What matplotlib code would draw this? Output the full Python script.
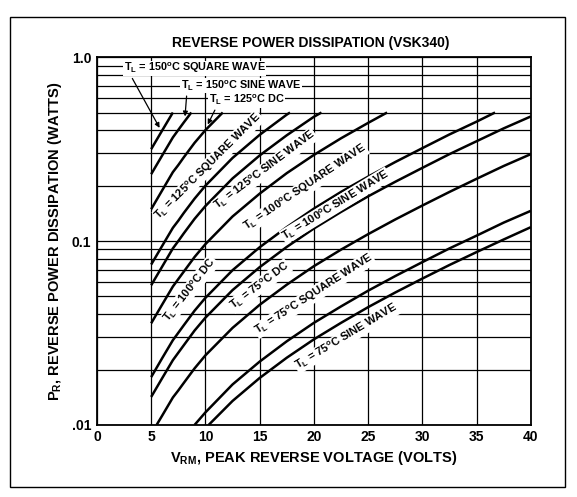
import matplotlib
matplotlib.use('Agg')
import matplotlib.pyplot as plt
from matplotlib.patches import Rectangle

plt.rcParams['font.family'] = ['Liberation Sans', 'DejaVu Sans']
plt.rcParams['font.weight'] = 'bold'
plt.rcParams['mathtext.default'] = 'regular'

# values (volts, watts)
v_150_sq = [5, 6, 7]
p_150_sq = [0.316, 0.398, 0.50]

v_150_sine = [5, 6, 7, 7.5, 8, 8.7]
p_150_sine = [0.231, 0.291, 0.366, 0.402, 0.441, 0.50]

v_125_dc = [5, 6, 7, 7.5, 8, 9, 10, 11.6]
p_125_dc = [0.149, 0.188, 0.237, 0.259, 0.285, 0.342, 0.401, 0.50]

v_125_sq = [5, 6, 7, 7.5, 8, 9, 10, 12.5, 15, 17.5, 17.8]
p_125_sq = [0.0745, 0.0938, 0.118, 0.129, 0.142, 0.170, 0.200, 0.283, 0.378, 0.487, 0.50]

v_125_sine = [5, 6, 7, 7.5, 8, 9, 10, 12.5, 15, 17.5, 20, 20.7]
p_125_sine = [0.0575, 0.0724, 0.0912, 0.100, 0.110, 0.132, 0.155, 0.219, 0.292, 0.376, 0.474, 0.50]

v_100_dc = [5, 6, 7, 7.5, 8, 9, 10, 12.5, 15, 17.5, 20, 22.5, 25, 26.75]
p_100_dc = [0.0357, 0.0450, 0.0566, 0.0621, 0.0681, 0.0819, 0.0962, 0.136, 0.181,
            0.234, 0.294, 0.362, 0.439, 0.50]

v_100_sq = [5, 6, 7, 7.5, 8, 9, 10, 12.5, 15, 17.5, 20, 22.5, 25, 27.5, 30, 32.5, 35, 36.7]
p_100_sq = [0.0182, 0.0230, 0.0289, 0.0317, 0.0348, 0.0418, 0.0491, 0.0694, 0.0925,
            0.119, 0.150, 0.185, 0.224, 0.269, 0.320, 0.380, 0.446, 0.50]

v_100_sine = [5, 6, 7, 7.5, 8, 9, 10, 12.5, 15, 17.5, 20, 22.5, 25, 27.5, 30, 32.5, 35, 37.5, 40]
p_100_sine = [0.0142, 0.0179, 0.0225, 0.0247, 0.0271, 0.0326, 0.0383, 0.0541, 0.0721,
              0.0929, 0.117, 0.144, 0.175, 0.210, 0.250, 0.297, 0.349, 0.410, 0.476]

v_75_dc = [5.5, 6, 7, 7.5, 8, 9, 10, 12.5, 15, 17.5, 20, 22.5, 25, 27.5, 30, 32.5, 35, 37.5, 40]
p_75_dc = [0.0100, 0.0112, 0.0141, 0.0154, 0.0169, 0.0203, 0.0239, 0.0337, 0.0450,
           0.0579, 0.0730, 0.0898, 0.109, 0.131, 0.156, 0.185, 0.218, 0.256, 0.297]

v_75_sq = [9, 10, 12.5, 15, 17.5, 20, 22.5, 25, 27.5, 30, 32.5, 35, 37.5, 40]
p_75_sq = [0.0100, 0.0117, 0.0166, 0.0221, 0.0285, 0.0359, 0.0441, 0.0537, 0.0645,
           0.0768, 0.0912, 0.107, 0.126, 0.146]

v_75_sine = [10.3, 12.5, 15, 17.5, 20, 22.5, 25, 27.5, 30, 32.5, 35, 37.5, 40]
p_75_sine = [0.0100, 0.0135, 0.0180, 0.0232, 0.0292, 0.0359, 0.0437, 0.0525, 0.0625,
             0.0741, 0.0871, 0.102, 0.119]

curves = [
    (v_150_sq, p_150_sq), (v_150_sine, p_150_sine), (v_125_dc, p_125_dc),
    (v_125_sq, p_125_sq), (v_125_sine, p_125_sine), (v_100_dc, p_100_dc),
    (v_100_sq, p_100_sq), (v_100_sine, p_100_sine), (v_75_dc, p_75_dc),
    (v_75_sq, p_75_sq), (v_75_sine, p_75_sine),
]

x_ticks = [0, 5, 10, 15, 20, 25, 30, 35, 40]
y_ticks = [0.01, 0.1, 1.0]
y_tick_labels = ['.01', '0.1', '1.0']

fig = plt.figure(figsize=(5.77, 4.97), dpi=100)
ax = fig.add_axes([0.168, 0.145, 0.752, 0.740])
ax.set_yscale('log')
ax.set_xlim(0, 40)
ax.set_ylim(0.01, 1.0)

ax.set_xticks(x_ticks)
ax.set_xticklabels([str(t) for t in x_ticks], fontsize=10, fontweight='bold')
ax.set_yticks(y_ticks)
ax.set_yticklabels(y_tick_labels, fontsize=10, fontweight='bold')
ax.yaxis.set_minor_locator(matplotlib.ticker.LogLocator(base=10, subs=range(2, 10)))
ax.yaxis.set_minor_formatter(matplotlib.ticker.NullFormatter())
ax.tick_params(which='both', length=0, pad=4)
ax.grid(True, which='both', color='black', linewidth=0.9, zorder=1)
ax.set_axisbelow(True)
for s in ax.spines.values():
    s.set_linewidth(1.3)

for v, p in curves:
    ax.plot(v, p, color='black', linewidth=1.8, solid_capstyle='butt', zorder=3)

box = dict(facecolor='white', edgecolor='none', pad=0.4)
fs_top = 7.8
fs = 8.0
arrow = dict(arrowstyle='-|>', color='black', lw=0.9, relpos=(0.05, 0.0), mutation_scale=7)

# horizontal labels with leaders at the top
ax.annotate('T$_L$ = 150$^o$C SQUARE WAVE', xy=(5.9, 0.40), xytext=(9.0, 0.87),
            ha='center', va='center', fontsize=fs_top, bbox=box, zorder=5,
            arrowprops=arrow)
ax.annotate('T$_L$ = 150$^o$C SINE WAVE', xy=(8.1, 0.46), xytext=(13.3, 0.70),
            ha='center', va='center', fontsize=fs_top, bbox=box, zorder=5,
            arrowprops=arrow)
ax.annotate('T$_L$ = 125$^o$C DC', xy=(10.1, 0.417), xytext=(13.8, 0.585),
            ha='center', va='center', fontsize=fs_top, bbox=box, zorder=6,
            arrowprops=dict(arrow, relpos=(0.1, 0.0)))

# rotated labels sitting in the gaps between curves: (text, V, P, angle)
rot_labels = [
    ('T$_L$ = 125$^o$C SQUARE WAVE', 10.3, 0.255, 45),
    ('T$_L$ = 125$^o$C SINE WAVE', 15.5, 0.242, 37),
    ('T$_L$ = 100$^o$C DC', 8.6, 0.0543, 52),
    ('T$_L$ = 100$^o$C SQUARE WAVE', 19.2, 0.195, 34),
    ('T$_L$ = 100$^o$C SINE WAVE', 22.0, 0.156, 31.5),
    ('T$_L$ = 75$^o$C DC', 15.0, 0.057, 37),
    ('T$_L$ = 75$^o$C SQUARE WAVE', 20.0, 0.0512, 33),
    ('T$_L$ = 75$^o$C SINE WAVE', 23.0, 0.0300, 31),
]
for text, v, p, ang in rot_labels:
    ax.text(v, p, text, rotation=ang, rotation_mode='anchor', ha='center', va='center',
            fontsize=fs, bbox=box, zorder=4)

fig.text(0.538, 0.913, 'REVERSE POWER DISSIPATION (VSK340)', ha='center', va='center',
         fontsize=10, fontweight='bold')
ax.set_xlabel('V$_{RM}$, PEAK REVERSE VOLTAGE (VOLTS)', fontsize=10.5, fontweight='bold',
              labelpad=3)
ax.set_ylabel('P$_R$, REVERSE POWER DISSIPATION (WATTS)', fontsize=10.5, fontweight='bold',
              labelpad=6)

fig.add_artist(Rectangle((10 / 577, 1 - 487 / 497), 555 / 577, 470 / 497,
                         transform=fig.transFigure, fill=False, edgecolor='black',
                         linewidth=1.0))

fig.savefig('out.png', dpi=100)
